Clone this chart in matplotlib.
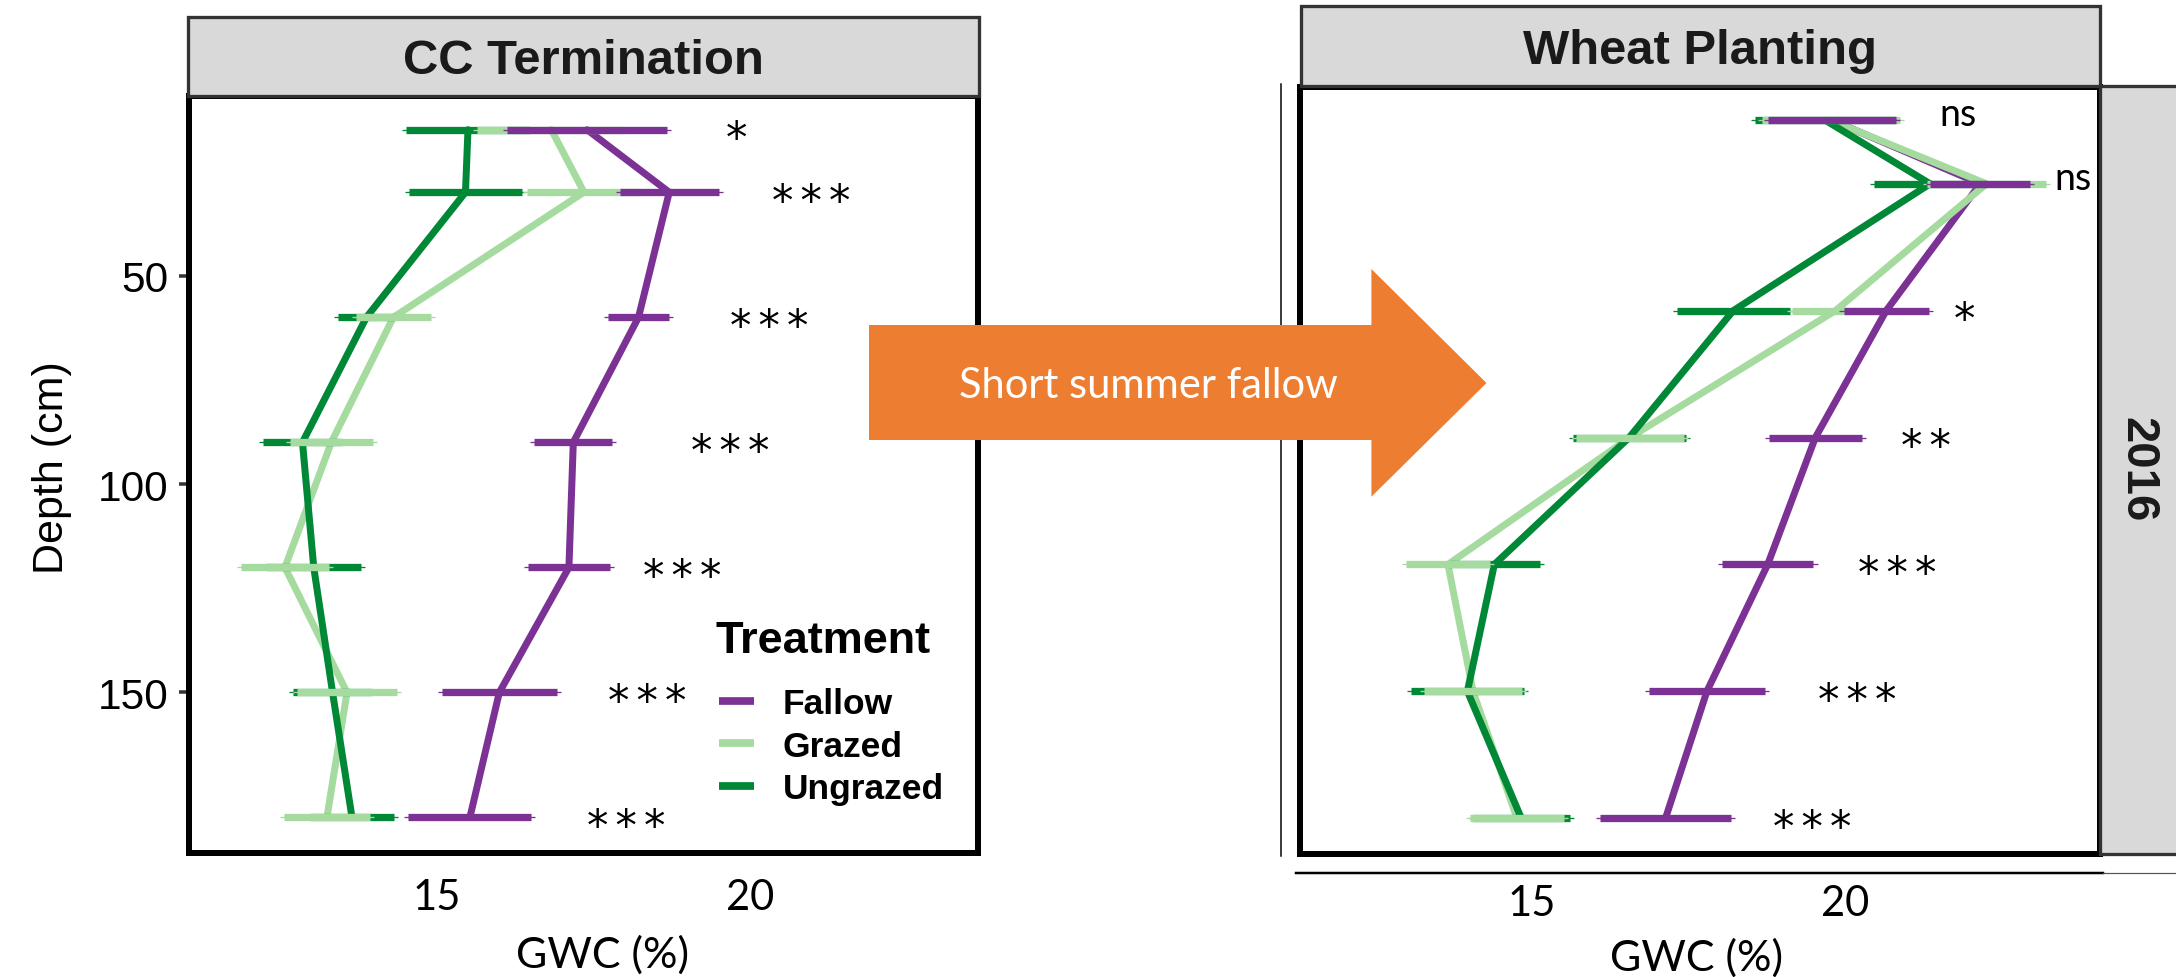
import matplotlib
matplotlib.use("Agg")
import matplotlib.pyplot as plt
from matplotlib.lines import Line2D
from matplotlib.patches import Polygon, Rectangle

# ---------------- data ----------------
depths = [15, 30, 60, 90, 120, 150, 180]

# CC Termination
fallow_cc = [17.40, 18.71, 18.22, 17.18, 17.11, 16.00, 15.53]
fallow_cc_se = [1.27, 0.79, 0.48, 0.62, 0.655, 0.92, 0.98]
grazed_cc = [16.83, 17.35, 14.31, 13.32, 12.58, 13.57, 13.25]
grazed_cc_se = [1.18, 0.91, 0.60, 0.66, 0.70, 0.79, 0.68]
ungrazed_cc = [15.50, 15.46, 13.88, 12.86, 13.04, 13.34, 13.65]
ungrazed_cc_se = [0.99, 0.895, 0.46, 0.63, 0.76, 0.63, 0.67]
sig_cc = ["*", "***", "***", "***", "***", "***", "***"]
sig_cc_x = [19.78, 20.97, 20.31, 19.68, 18.92, 18.36, 18.02]

# Wheat Planting
fallow_wp = [19.79, 22.15, 20.65, 19.52, 18.76, 17.79, 17.13]
fallow_wp_se = [1.02, 0.80, 0.68, 0.74, 0.73, 0.92, 1.04]
grazed_wp = [19.77, 22.25, 19.84, 16.56, 13.66, 14.06, 14.76]
grazed_wp_se = [1.10, 0.95, 0.70, 0.86, 0.67, 0.78, 0.75]
ungrazed_wp = [19.68, 21.35, 18.21, 16.55, 14.40, 13.97, 14.83]
ungrazed_wp_se = [1.12, 0.90, 0.90, 0.90, 0.73, 0.90, 0.77]
sig_wp = ["ns", "ns", "*", "**", "***", "***", "***"]
sig_wp_x = [21.80, 23.63, 21.90, 21.28, 20.83, 20.18, 19.47]

treatments = ["Fallow", "Grazed", "Ungrazed"]
colors = ["#7B3294", "#A6DBA0", "#008837"]
x_ticks = [15, 20]
y_ticks = [50, 100, 150]

# ---------------- layout helpers ----------------
W, H = 2176, 978
PX = 72 / 100.0  # points per pixel at dpi 100
fig = plt.figure(figsize=(W / 100, H / 100), dpi=100)


def fbox(x0, y0, x1, y1):
    return [x0 / W, 1 - y1 / H, (x1 - x0) / W, (y1 - y0) / H]


def fx(x):
    return x / W


def fy(y):
    return 1 - y / H


def draw_panel(ax, vals_list, se_list, sig, sig_x, xlim, ylim):
    for vals, c, lab in zip(vals_list, colors, treatments):
        ax.plot(vals, depths, color=c, lw=7 * PX, solid_joinstyle="round",
                solid_capstyle="round", zorder=2, label=lab)
    ext = 0.065
    for vals, se, c in reversed(list(zip(vals_list, se_list, colors))):
        lo = [v - s for v, s in zip(vals, se)]
        hi = [v + s for v, s in zip(vals, se)]
        ax.hlines(depths, [l - ext for l in lo], [h + ext for h in hi],
                  colors=c, lw=1.3 * PX, zorder=3)
        ax.hlines(depths, lo, hi, colors=c, lw=7.3 * PX, zorder=3,
                  capstyle="butt")
    for lab, x, d in zip(sig, sig_x, depths):
        if "*" in lab:
            ax.annotate("\u2006".join(lab), (x, d), xytext=(0, -15.6),
                        textcoords="offset points", ha="center",
                        va="baseline", fontsize=31, family="DejaVu Sans",
                        color="black", zorder=5)
        else:
            ax.annotate(lab, (x, d), xytext=(0, -3.6),
                        textcoords="offset points", ha="center",
                        va="baseline", fontsize=27, family="Lato",
                        color="black", zorder=5)
    ax.set_xlim(*xlim)
    ax.set_ylim(*ylim)
    for s in ax.spines.values():
        s.set_linewidth(6 * PX)
        s.set_color("black")
        s.set_zorder(4)
    ax.set_xticks(x_ticks)
    ax.set_xticklabels([str(t) for t in x_ticks], family="Lato", fontsize=30)


# ---------------- left panel ----------------
axL = fig.add_axes(fbox(189, 96.7, 978.3, 853.7))
draw_panel(axL, [fallow_cc, grazed_cc, ungrazed_cc],
           [fallow_cc_se, grazed_cc_se, ungrazed_cc_se],
           sig_cc, sig_cc_x, (11.05, 23.64), (188.45, 6.84))
axL.set_yticks(y_ticks)
axL.set_yticklabels([str(t) for t in y_ticks], family="Liberation Sans",
                    fontsize=30.5)
axL.tick_params(axis="y", length=10 * PX, width=3.5 * PX, color="#333333",
                pad=7.4, labelcolor="black")
axL.tick_params(axis="x", length=0, pad=18)

# legend
handles = [Line2D([0], [0], color=c, lw=7.7 * PX, solid_capstyle="butt")
           for c in colors]
leg = axL.legend(handles, treatments, loc="upper left",
                 bbox_to_anchor=((719 - 189) / 789.3, (853.7 - 688.5) / 757.0),
                 frameon=False, borderpad=0, borderaxespad=0,
                 handlelength=1.0, handletextpad=0.8, labelspacing=0.26,
                 prop={"family": "Liberation Sans", "weight": "bold",
                       "size": 25.5})
axL.text((716 - 189) / 789.3, (853.7 - 652.7) / 757.0, "Treatment",
         transform=axL.transAxes, ha="left", va="baseline",
         family="Liberation Sans", weight="bold", fontsize=32.5)

# ---------------- right panel ----------------
axR = fig.add_axes(fbox(1300, 87.5, 2100, 855))
draw_panel(axR, [fallow_wp, grazed_wp, ungrazed_wp],
           [fallow_wp_se, grazed_wp_se, ungrazed_wp_se],
           sig_wp, sig_wp_x, (11.30, 24.06), (188.46, 7.0))
axR.set_yticks([])
axR.tick_params(axis="x", length=0, pad=21.6)

# ---------------- strips ----------------
strip_kw = dict(transform=fig.transFigure, facecolor="#D9D9D9",
                edgecolor="#333333", lw=3.3 * PX, zorder=1)
fig.add_artist(Rectangle((fx(188), fy(96.7)), (979 - 188) / W,
                         (96.7 - 17.7) / H, **strip_kw))
fig.add_artist(Rectangle((fx(1300.5), fy(86.7)), (2100 - 1300.5) / W,
                         (86.7 - 6.7) / H, **strip_kw))
fig.add_artist(Rectangle((fx(2100), fy(855)), (2200 - 2100) / W,
                         (855 - 86.7) / H, **strip_kw))
fig.text(fx(583.5), fy(74.5), "CC Termination", ha="center", va="baseline",
         family="Liberation Sans", weight="bold", fontsize=35.3,
         color="#1A1A1A")
fig.text(fx(1700), fy(64.5), "Wheat Planting", ha="center", va="baseline",
         family="Liberation Sans", weight="bold", fontsize=35.3,
         color="#1A1A1A")
fig.text(fx(2137), fy(469.5), "2016", ha="center", va="center",
         rotation=270, family="Liberation Sans", weight="bold", fontsize=34,
         color="#1A1A1A")

# ---------------- axis titles ----------------
fig.text(fx(52), fy(468), "Depth (cm)", rotation=90, ha="center",
         va="center", family="Liberation Sans", fontsize=31)
fig.text(fx(603), fy(968), "GWC (%)", ha="center", va="baseline",
         family="Lato", fontsize=31)
fig.text(fx(1696), fy(971), "GWC (%)", ha="center", va="baseline",
         family="Lato", fontsize=31)

# ---------------- thin frame remnants ----------------
fig.add_artist(Line2D([fx(1280.7), fx(1280.7)], [fy(85), fy(857)],
                      transform=fig.transFigure, color="black",
                      lw=1.5 * PX, zorder=1))
fig.add_artist(Line2D([fx(1296), fx(2103)], [fy(874), fy(874)],
                      transform=fig.transFigure, color="black",
                      lw=2.5 * PX, zorder=1))
fig.add_artist(Line2D([fx(2103), fx(2176)], [fy(874), fy(874)],
                      transform=fig.transFigure, color="#555555",
                      lw=1.2 * PX, zorder=1))

# ---------------- arrow ----------------
arrow_px = [(869, 326), (1371.4, 326), (1371.4, 270), (1486.5, 384),
            (1371.4, 497.7), (1371.4, 441), (869, 441)]
fig.add_artist(Polygon([(fx(x), fy(y)) for x, y in arrow_px], closed=True,
                       transform=fig.transFigure, facecolor="#ED7D31",
                       edgecolor="none", zorder=10))
fig.text(fx(1148), fy(386), "Short summer fallow", ha="center", va="center",
         family="Lato", fontsize=30, color="white", zorder=11)

fig.savefig("out.png", dpi=100, facecolor="white")
